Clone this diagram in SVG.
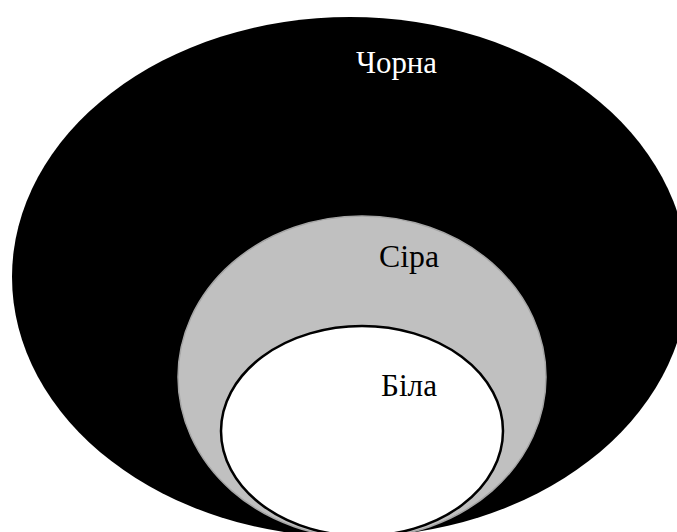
<svg xmlns="http://www.w3.org/2000/svg" width="677" height="532" viewBox="0 0 677 532">
  <style>
    .lbl { font-family: "Liberation Serif", "DejaVu Serif", "Times New Roman", serif; font-size: 31px; }
  </style>
  <rect width="677" height="532" fill="#ffffff"/>
  <g id="black">
    <ellipse cx="350" cy="277" rx="338" ry="260" fill="#000000"/>
    <text class="lbl" x="356" y="73" fill="#ffffff" textLength="81" lengthAdjust="spacingAndGlyphs">Чорна</text>
  </g>
  <g id="grey">
    <ellipse cx="362" cy="377" rx="184" ry="161" fill="#c0c0c0" stroke="#a6a6a6" stroke-width="1.5"/>
    <text class="lbl" x="379" y="267" fill="#000000" textLength="60" lengthAdjust="spacingAndGlyphs">Сіра</text>
  </g>
  <g id="white">
    <ellipse cx="362" cy="431" rx="141" ry="105" fill="#ffffff" stroke="#000000" stroke-width="2.5"/>
    <text class="lbl" x="381" y="396" fill="#000000" textLength="56" lengthAdjust="spacingAndGlyphs">Біла</text>
  </g>
  <g id="connectors"/>
</svg>
